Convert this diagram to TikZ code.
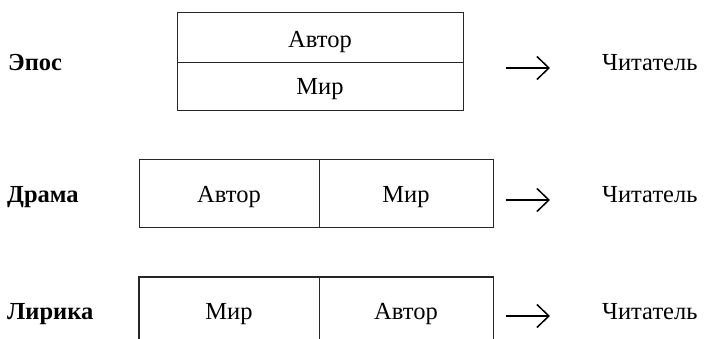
\documentclass[tikz,border=0pt]{standalone}
\usepackage{fontspec}
\setmainfont{Liberation Serif}
\usetikzlibrary{arrows.meta}
\begin{document}
\begin{tikzpicture}[x=1pt,y=-1pt,
  txt/.style={font=\fontsize{24.5}{28}\selectfont, inner sep=0pt, anchor=base},
  lbl/.style={font=\fontsize{24.5}{28}\selectfont\bfseries, inner sep=0pt, anchor=base west},
  rdr/.style={font=\fontsize{24.5}{28}\selectfont, inner sep=0pt, anchor=base west},
  cell/.style={draw=black!85, line width=1.2pt, inner sep=0pt, anchor=north west},
  opencell/.style={inner sep=0pt, anchor=north west},
  edge/.style={draw=black!85, line width=1.2pt},
  arr/.style={line width=1.5pt, -{Straight Barb[length=12pt,width=23pt,line width=1.5pt]}}]
\useasboundingbox (0,0) rectangle (705,339);

% ---- Epos ----
\node[lbl] (epos) at (8,71) {Эпос};
\node[cell, minimum width=286pt, minimum height=50pt] (e1) at (177,12) {};
\node[cell, minimum width=286pt, minimum height=48pt] (e2) at (177,62) {};
\node[txt] (e1t) at (320,48) {Автор};
\node[txt] (e2t) at (320,95) {Мир};
\coordinate (a1s) at (506,68);
\coordinate (a1e) at (550,68);
\draw[arr] (a1s) -- (a1e);
\node[rdr] (r1) at (602,71) {Читатель};

% ---- Drama ----
\node[lbl] (drama) at (7,203) {Драма};
\node[cell, minimum width=180pt, minimum height=68pt] (d1) at (139,159) {};
\node[cell, minimum width=174pt, minimum height=68pt] (d2) at (319,159) {};
\node[txt] (d1t) at (229,203) {Автор};
\node[txt] (d2t) at (406,203) {Мир};
\coordinate (a2s) at (506,200);
\coordinate (a2e) at (550,200);
\draw[arr] (a2s) -- (a2e);
\node[rdr] (r2) at (602,203) {Читатель};

% ---- Lirika ----
\node[lbl] (lirika) at (7,320) {Лирика};
\node[opencell, minimum width=180pt, minimum height=66pt] (l1) at (139,277) {};
\node[opencell, minimum width=174pt, minimum height=66pt] (l2) at (319,277) {};
\draw[edge] (l1.south west) -- (l1.north west) -- (l2.north east) -- (l2.south east);
\draw[edge] (l1.north east) -- (l1.south east);
\node[txt] (l1t) at (229,320) {Мир};
\node[txt] (l2t) at (406,320) {Автор};
\coordinate (a3s) at (506,316);
\coordinate (a3e) at (550,316);
\draw[arr] (a3s) -- (a3e);
\node[rdr] (r3) at (602,320) {Читатель};
\end{tikzpicture}
\end{document}
